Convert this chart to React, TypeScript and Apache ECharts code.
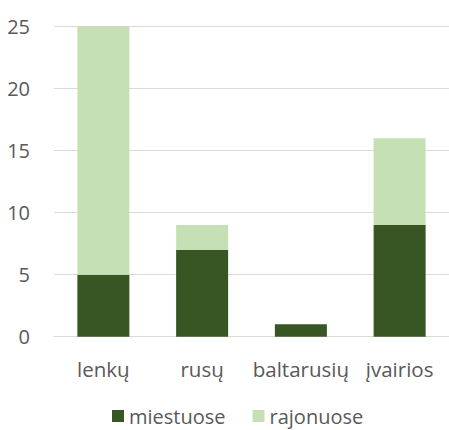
import React, { useEffect, useRef } from "react";
import * as echarts from "echarts";

const categories = ["lenkų", "rusų", "baltarusių", "įvairios"];
const miestuose = [5, 7, 1, 9];
const rajonuose = [20, 2, 0, 7];
const seriesNames = ["miestuose", "rajonuose"];

export default function App() {
  const ref = useRef<HTMLDivElement>(null);
  useEffect(() => {
    const chart = echarts.init(ref.current!, null, { renderer: "svg" });
    const font = "'Open Sans', sans-serif";
    chart.setOption({
      animation: false,
      textStyle: { fontFamily: font },
      grid: { left: 54, right: 0, top: 26.7, bottom: 93.3 },
      legend: {
        data: seriesNames,
        top: 400,
        left: 107,
        itemWidth: 12,
        itemHeight: 12,
        itemGap: 27,
        icon: "rect",
        textStyle: { fontSize: 20, color: "#595959", fontFamily: font, lineHeight: 22 },
      },
      xAxis: {
        type: "category",
        data: categories,
        axisTick: { show: false },
        axisLine: { lineStyle: { color: "#d9d9d9", width: 1 } },
        axisLabel: { fontSize: 20.5, color: "#595959", fontFamily: font, margin: 22, interval: 0 },
      },
      yAxis: {
        type: "value",
        min: 0,
        max: 25,
        interval: 5,
        axisLine: { show: false },
        axisTick: { show: false },
        splitLine: { lineStyle: { color: "#d9d9d9", width: 1 } },
        axisLabel: { fontSize: 20, color: "#595959", fontFamily: font, margin: 24 },
      },
      series: [
        {
          name: seriesNames[0],
          type: "bar",
          stack: "a",
          data: miestuose,
          barWidth: 52,
          itemStyle: { color: "#375623" },
        },
        {
          name: seriesNames[1],
          type: "bar",
          stack: "a",
          data: rajonuose,
          barWidth: 52,
          itemStyle: { color: "#c5e0b4" },
        },
      ],
    });
    return () => chart.dispose();
  }, []);
  return <div ref={ref} style={{ width: 449, height: 430, position: "absolute", left: 0, top: 0 }} />;
}
